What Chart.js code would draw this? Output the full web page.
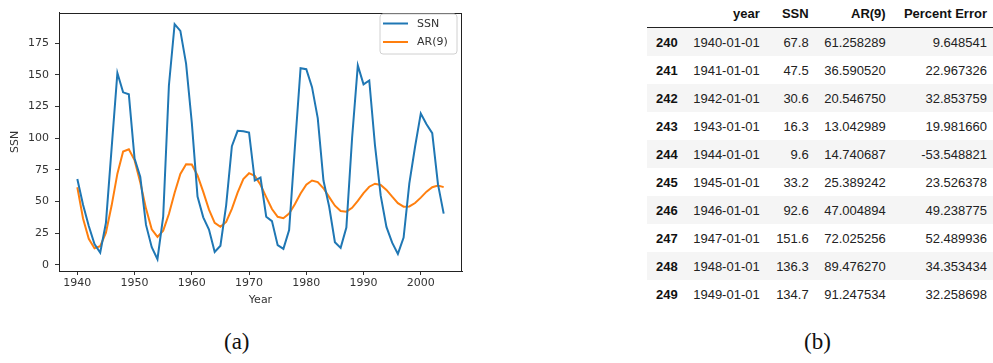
<!DOCTYPE html>
<html>
<head>
<meta charset="utf-8">
<script src="https://cdn.jsdelivr.net/npm/chart.js@4.4.1/dist/chart.umd.min.js"></script>
<style>
  html, body { margin: 0; padding: 0; background: #fff; }
  body { width: 993px; height: 363px; position: relative; overflow: hidden; }
  #plotBox { position: absolute; left: 0; top: 0; width: 470px; height: 310px; }
  #tbl {
    position: absolute; left: 646.7px; top: 0; width: 346.3px;
    border-collapse: collapse; table-layout: fixed;
    font-family: "Liberation Sans", Arial, sans-serif; font-size: 13px; color: #222;
  }
  #tbl th, #tbl td { text-align: right; padding: 0 5px 0 0; white-space: nowrap; }
  #tbl thead th { height: 27px; border-bottom: 1px solid #222; font-weight: bold; color: #111; }
  #tbl tbody td { height: 28px; }
  #tbl tbody th { height: 28px; font-weight: bold; color: #111; }
  #tbl tbody tr:nth-child(odd) { background: #f5f5f5; }
  #tbl td.last, #tbl th.last { padding-right: 6px; }
  .cap { position: absolute; top: 329px; font-family: "Liberation Serif", "DejaVu Serif", serif; font-size: 23px; color: #111; }
</style>
</head>
<body>
<div id="plotBox"><canvas id="c"></canvas></div>
<table id="tbl">
  <colgroup><col style="width:36px"><col style="width:82px"><col style="width:49px"><col style="width:77px"><col></colgroup>
  <thead><tr><th></th><th>year</th><th>SSN</th><th>AR(9)</th><th class="last">Percent Error</th></tr></thead>
  <tbody id="tbody"></tbody>
</table>
<div class="cap" style="left:224px">(a)</div>
<div class="cap" style="left:804px">(b)</div>
<script>
// Yearly sunspot numbers and the dynamic AR(9) forecast, 1940-2004
const years = [];
for (let y = 1940; y <= 2004; y++) years.push(y);

const ssn = [
  67.8, 47.5, 30.6, 16.3, 9.6, 33.2, 92.6, 151.6, 136.3, 134.7,
  83.9, 69.4, 31.5, 13.9, 4.4, 38.0, 141.7, 190.2, 184.8, 159.0,
  112.3, 53.9, 37.5, 27.9, 10.2, 15.1, 47.0, 93.8, 105.9, 105.5,
  104.5, 66.6, 68.9, 38.0, 34.5, 15.5, 12.6, 27.5, 92.5, 155.4,
  154.6, 140.4, 115.9, 66.6, 45.9, 17.9, 13.4, 29.4, 100.2, 157.6,
  142.6, 145.7, 94.3, 54.6, 29.9, 17.5, 8.6, 21.5, 64.3, 93.3,
  119.6, 111.0, 104.0, 63.7, 40.4
];

const ar9 = [
  61.258289, 36.590520, 20.546750, 13.042989, 14.740687, 25.389242, 47.004894, 72.025256, 89.476270, 91.247534,
  82.7, 65.0, 44.4, 28.1, 22.0, 27.0, 40.1, 57.0, 71.8, 79.5,
  79.3, 70.6, 57.6, 43.6, 33.2, 30.0, 33.9, 44.2, 57.0, 67.8,
  72.4, 70.3, 63.2, 53.5, 44.1, 37.9, 36.8, 40.5, 47.8, 56.3,
  63.3, 66.6, 65.4, 60.5, 53.5, 46.7, 42.5, 42.0, 45.0, 50.5,
  56.7, 61.7, 64.1, 63.1, 59.2, 53.8, 48.7, 45.9, 46.1, 48.8,
  53.1, 57.8, 61.3, 62.6, 61.4
];

// Table rows: first ten years of the forecast
const tableIndex = [240, 241, 242, 243, 244, 245, 246, 247, 248, 249];
const tableDates = ["1940-01-01", "1941-01-01", "1942-01-01", "1943-01-01", "1944-01-01",
                    "1945-01-01", "1946-01-01", "1947-01-01", "1948-01-01", "1949-01-01"];
const percentError = ["9.648541", "22.967326", "32.853759", "19.981660", "-53.548821",
                      "23.526378", "49.238775", "52.489936", "34.353434", "32.258698"];

const xTicks = [1940, 1950, 1960, 1970, 1980, 1990, 2000];
const yTicks = [0, 25, 50, 75, 100, 125, 150, 175];

// build the table body
const tb = document.getElementById('tbody');
tableIndex.forEach((idx, i) => {
  const tr = document.createElement('tr');
  tr.innerHTML = '<th>' + idx + '</th><td>' + tableDates[i] + '</td><td>' + ssn[i].toFixed(1) +
    '</td><td>' + ar9[i].toFixed(6) + '</td><td class="last">' + percentError[i] + '</td>';
  tb.appendChild(tr);
});

const INK = '#333';
const FONT = { family: 'DejaVu Sans', size: 11 };

// box around the plot area plus a matplotlib-style legend in the upper right
const framePlugin = {
  id: 'frame',
  afterDatasetsDraw(chart) {
    const { ctx, chartArea: a } = chart;
    ctx.save();
    ctx.strokeStyle = '#222';
    ctx.lineWidth = 1;
    ctx.strokeRect(Math.round(a.left) + 0.5, Math.round(a.top) + 0.5,
                   Math.round(a.right - a.left) - 1, Math.round(a.bottom - a.top));
    // legend
    const bx = 380, by = 14, bw = 77, bh = 40, r = 3;
    ctx.beginPath();
    ctx.moveTo(bx + r, by);
    ctx.arcTo(bx + bw, by, bx + bw, by + bh, r);
    ctx.arcTo(bx + bw, by + bh, bx, by + bh, r);
    ctx.arcTo(bx, by + bh, bx, by, r);
    ctx.arcTo(bx, by, bx + bw, by, r);
    ctx.closePath();
    ctx.fillStyle = 'rgba(255,255,255,0.8)';
    ctx.fill();
    ctx.strokeStyle = '#d0d0d0';
    ctx.lineWidth = 1;
    ctx.stroke();
    ctx.font = '11px "DejaVu Sans"';
    ctx.textBaseline = 'middle';
    chart.data.datasets.forEach((ds, i) => {
      const yy = 23.5 + i * 18.5;
      ctx.strokeStyle = ds.borderColor;
      ctx.lineWidth = 2;
      ctx.beginPath();
      ctx.moveTo(383, yy);
      ctx.lineTo(408, yy);
      ctx.stroke();
      ctx.fillStyle = INK;
      ctx.fillText(ds.label, 417, yy + 0.5);
    });
    ctx.restore();
  }
};

new Chart(document.getElementById('c'), {
  type: 'line',
  data: {
    datasets: [
      { label: 'SSN', data: years.map((y, i) => ({ x: y, y: ssn[i] })),
        borderColor: '#1f77b4', borderWidth: 2, pointRadius: 0, tension: 0, fill: false },
      { label: 'AR(9)', data: years.map((y, i) => ({ x: y, y: ar9[i] })),
        borderColor: '#ff7f0e', borderWidth: 2, pointRadius: 0, tension: 0, fill: false }
    ]
  },
  options: {
    responsive: true,
    maintainAspectRatio: false,
    animation: false,
    events: [],
    layout: { padding: { top: 8, right: 8, left: 0, bottom: 0 } },
    plugins: { legend: { display: false }, tooltip: { enabled: false } },
    scales: {
      x: {
        type: 'linear', min: 1936.8, max: 2007.2,
        afterBuildTicks(s) { s.ticks = xTicks.map(v => ({ value: v })); },
        afterFit(s) { s.height = 39; },
        grid: { display: true, drawOnChartArea: false, drawTicks: true, tickLength: 4, color: INK },
        border: { display: true, color: '#222' },
        ticks: { color: INK, font: FONT, padding: 2, maxRotation: 0, callback: v => String(v) },
        title: { display: true, text: 'Year', color: INK, font: FONT, padding: { top: 0, bottom: 3 } }
      },
      y: {
        type: 'linear', min: -4.9, max: 199.3,
        afterBuildTicks(s) { s.ticks = yTicks.map(v => ({ value: v })); },
        afterFit(s) { s.width = 59; },
        grid: { display: true, drawOnChartArea: false, drawTicks: true, tickLength: 4, color: INK },
        border: { display: true, color: '#222' },
        ticks: { color: INK, font: FONT, padding: 6, callback: v => String(v) },
        title: { display: true, text: 'SSN', color: INK, font: FONT, padding: { top: 9, bottom: 0 } }
      }
    }
  },
  plugins: [framePlugin]
});
</script>
</body>
</html>
